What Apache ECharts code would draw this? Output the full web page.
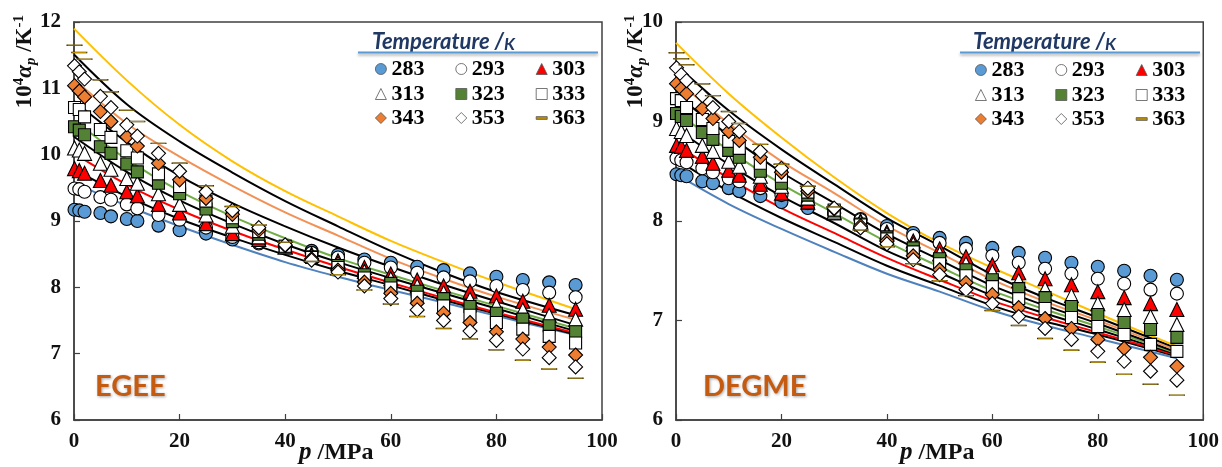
<!DOCTYPE html>
<html><head><meta charset="utf-8">
<script src="https://cdn.jsdelivr.net/npm/echarts@6/dist/echarts.min.js"></script>
<style>html,body{margin:0;padding:0;background:#fff}#c{width:1222px;height:467px}</style>
</head><body><div id="c"></div>
<script>
// ---------- DATA ----------
const temps = ['283','293','303','313','323','333','343','353','363'];
const pressure = [0.1,1,2,5,7,10,12,16,20,25,30,35,40,45,50,55,60,65,70,75,80,85,90,95];
const fitPressure = [0,10,20,30,40,50,60,70,80,95];
const xTicks = [0,20,40,60,80,100];
const yTicksEGEE = [6,7,8,9,10,11,12];
const yTicksDEGME = [6,7,8,9,10];

// EGEE measured
const egee_283 = [9.17,9.16,9.14,9.12,9.07,9.03,9.00,8.93,8.86,8.81,8.72,8.66,8.61,8.55,8.49,8.42,8.37,8.31,8.26,8.21,8.16,8.11,8.075,8.035];
const egee_293 = [9.49,9.48,9.44,9.36,9.32,9.25,9.19,9.09,9.02,8.90,8.76,8.68,8.61,8.52,8.45,8.37,8.30,8.22,8.15,8.09,8.02,7.96,7.92,7.85];
const egee_303 = [9.79,9.76,9.72,9.61,9.54,9.44,9.38,9.25,9.12,8.96,8.81,8.72,8.61,8.50,8.40,8.30,8.20,8.11,8.02,7.94,7.87,7.79,7.73,7.67];
const egee_313 = [10.10,10.07,10.02,9.87,9.78,9.64,9.57,9.41,9.25,9.09,8.92,8.76,8.61,8.48,8.36,8.24,8.13,8.02,7.92,7.82,7.73,7.66,7.58,7.52];
const egee_323 = [10.42,10.37,10.30,10.12,10.02,9.86,9.74,9.57,9.41,9.18,8.99,8.80,8.62,8.46,8.33,8.19,8.06,7.94,7.83,7.71,7.61,7.52,7.42,7.33];
const egee_333 = [10.71,10.68,10.57,10.38,10.26,10.06,9.95,9.71,9.52,9.30,9.05,8.84,8.62,8.45,8.30,8.14,7.99,7.85,7.72,7.58,7.47,7.37,7.26,7.16];
const egee_343 = [11.04,10.96,10.87,10.65,10.50,10.27,10.13,9.87,9.62,9.34,9.10,8.86,8.63,8.43,8.26,8.08,7.91,7.76,7.61,7.47,7.33,7.22,7.10,6.98];
const egee_353 = [11.34,11.25,11.14,10.88,10.71,10.45,10.28,10.02,9.75,9.44,9.16,8.90,8.64,8.41,8.23,8.02,7.83,7.66,7.50,7.34,7.20,7.07,6.94,6.80];
const egee_363 = [11.65,11.54,11.44,11.13,10.95,10.67,10.50,10.17,9.87,9.53,9.22,8.94,8.68,8.39,8.19,7.96,7.75,7.56,7.38,7.22,7.06,6.90,6.77,6.63];

// EGEE fitted curves
const egeeFit_283 = [9.57,9.23,8.92,8.64,8.38,8.16,7.96,7.77,7.57,7.28];
const egeeFit_293 = [9.78,9.37,9.03,8.75,8.49,8.25,8.03,7.81,7.60,7.29];
const egeeFit_303 = [10.02,9.55,9.17,8.85,8.57,8.31,8.07,7.84,7.62,7.31];
const egeeFit_313 = [10.27,9.74,9.31,8.96,8.65,8.38,8.14,7.91,7.68,7.34];
const egeeFit_323 = [10.52,9.93,9.45,9.07,8.74,8.44,8.19,7.95,7.72,7.38];
const egeeFit_333 = [10.81,10.19,9.68,9.27,8.92,8.60,8.31,8.04,7.79,7.43];
const egeeFit_343 = [11.14,10.47,9.97,9.53,9.13,8.78,8.43,8.13,7.86,7.51];
const egeeFit_353 = [11.51,10.76,10.20,9.73,9.30,8.92,8.55,8.22,7.93,7.58];
const egeeFit_363 = [11.90,11.12,10.45,9.90,9.45,9.07,8.70,8.38,8.08,7.67];

// DEGME measured
const degme_283 = [8.47,8.46,8.45,8.40,8.38,8.33,8.30,8.25,8.19,8.13,8.08,8.02,7.95,7.88,7.83,7.78,7.73,7.68,7.63,7.58,7.54,7.50,7.45,7.41];
const degme_293 = [8.63,8.61,8.59,8.53,8.49,8.43,8.40,8.33,8.26,8.18,8.08,8.01,7.92,7.85,7.78,7.72,7.65,7.58,7.52,7.47,7.42,7.37,7.31,7.27];
const degme_303 = [8.76,8.75,8.71,8.65,8.58,8.51,8.46,8.37,8.28,8.19,8.08,8.00,7.89,7.80,7.72,7.64,7.56,7.48,7.42,7.36,7.29,7.23,7.17,7.11];
const degme_313 = [8.93,8.90,8.86,8.76,8.70,8.60,8.55,8.45,8.35,8.23,8.09,7.99,7.87,7.77,7.67,7.57,7.49,7.40,7.32,7.25,7.17,7.11,7.04,6.96];
const degme_323 = [9.08,9.05,9.01,8.89,8.82,8.71,8.64,8.50,8.38,8.26,8.10,7.97,7.84,7.73,7.62,7.51,7.41,7.32,7.23,7.14,7.06,6.98,6.91,6.83];
const degme_333 = [9.23,9.21,9.14,9.02,8.93,8.80,8.73,8.58,8.45,8.29,8.11,7.96,7.82,7.69,7.57,7.45,7.34,7.22,7.12,7.03,6.94,6.86,6.76,6.69];
const degme_343 = [9.38,9.33,9.28,9.13,9.03,8.90,8.81,8.64,8.49,8.30,8.12,7.95,7.80,7.65,7.51,7.38,7.26,7.13,7.02,6.92,6.81,6.72,6.63,6.54];
const degme_353 = [9.54,9.47,9.41,9.26,9.14,9.00,8.90,8.70,8.53,8.33,8.13,7.93,7.77,7.61,7.46,7.31,7.17,7.04,6.92,6.81,6.69,6.59,6.49,6.40];
const degme_363 = [9.69,9.63,9.57,9.38,9.26,9.10,8.98,8.77,8.57,8.35,8.14,7.91,7.74,7.57,7.40,7.25,7.10,6.95,6.82,6.70,6.58,6.46,6.36,6.25];

// DEGME fitted curves
const degmeFit_283 = [8.47,8.17,7.92,7.69,7.47,7.29,7.10,6.95,6.82,6.62];
const degmeFit_293 = [8.62,8.30,8.03,7.79,7.55,7.35,7.15,6.99,6.86,6.64];
const degmeFit_303 = [8.77,8.43,8.13,7.88,7.63,7.41,7.20,7.03,6.88,6.65];
const degmeFit_313 = [8.93,8.57,8.25,7.98,7.70,7.48,7.25,7.07,6.91,6.66];
const degmeFit_323 = [9.10,8.71,8.37,8.08,7.79,7.54,7.30,7.11,6.94,6.67];
const degmeFit_333 = [9.27,8.86,8.49,8.18,7.87,7.61,7.35,7.15,6.97,6.68];
const degmeFit_343 = [9.42,8.98,8.60,8.28,7.95,7.68,7.41,7.19,7.00,6.70];
const degmeFit_353 = [9.57,9.11,8.72,8.37,8.03,7.75,7.46,7.23,7.03,6.72];
const degmeFit_363 = [9.79,9.28,8.84,8.44,8.08,7.78,7.53,7.30,7.07,6.74];

// ---------- STYLE ----------
const egeeSets = [egee_283,egee_293,egee_303,egee_313,egee_323,egee_333,egee_343,egee_353,egee_363];
const egeeFits = [egeeFit_283,egeeFit_293,egeeFit_303,egeeFit_313,egeeFit_323,egeeFit_333,egeeFit_343,egeeFit_353,egeeFit_363];
const degmeSets = [degme_283,degme_293,degme_303,degme_313,degme_323,degme_333,degme_343,degme_353,degme_363];
const degmeFits = [degmeFit_283,degmeFit_293,degmeFit_303,degmeFit_313,degmeFit_323,degmeFit_333,degmeFit_343,degmeFit_353,degmeFit_363];

const markers = [
  {symbol:'circle', size:13, fill:'#5B9BD5', border:'#000', bw:1.1},
  {symbol:'circle', size:13, fill:'#FFFFFF', border:'#000', bw:1.1},
  {symbol:'triangle', size:14, fill:'#FF0000', border:'#000', bw:1.1},
  {symbol:'triangle', size:14, fill:'#FFFFFF', border:'#000', bw:1.1},
  {symbol:'rect', size:12, fill:'#548235', border:'#000', bw:1.1},
  {symbol:'rect', size:12, fill:'#FFFFFF', border:'#000', bw:1.1},
  {symbol:'diamond', size:14, fill:'#ED7D31', border:'#000', bw:1.1},
  {symbol:'diamond', size:14, fill:'#FFFFFF', border:'#000', bw:1.1},
  {symbol:'path://M0,0H16V4H0Z', size:[15,4.5], fill:'#BF9000', border:'#3D3000', bw:0.6}
];
const lineColors = ['#4F81BD','#000000','#FF0000','#000000','#70AD47','#000000','#F29155','#000000','#FFC000'];

const serif = '"Liberation Serif", "Times New Roman", serif';
const axisCol = '#404040';

function makeAxes(gridIndex, ymax){
  return {
    x: {gridIndex, type:'value', min:0, max:100, interval:20,
        axisLine:{show:true, onZero:false, lineStyle:{color:axisCol, width:1.5}},
        axisTick:{show:true, inside:true, length:6, lineStyle:{color:axisCol, width:1.2}},
        splitLine:{show:false},
        axisLabel:{fontFamily:serif, fontWeight:'bold', fontSize:21, color:'#111', margin:11}},
    y: {gridIndex, type:'value', min:6, max:ymax, interval:1,
        axisLine:{show:true, onZero:false, lineStyle:{color:axisCol, width:1.5}},
        axisTick:{show:true, inside:true, length:6, lineStyle:{color:axisCol, width:1.2}},
        splitLine:{show:false},
        axisLabel:{fontFamily:serif, fontWeight:'bold', fontSize:21, color:'#111', margin:13}}
  };
}
const a0 = makeAxes(0, yTicksEGEE[yTicksEGEE.length-1]);
const a1 = makeAxes(1, yTicksDEGME[yTicksDEGME.length-1]);

const series = [];
function addPanel(idx, sets, fits){
  fits.forEach((f,i)=>{
    series.push({type:'line', name:'fit'+temps[i]+'_'+idx, xAxisIndex:idx, yAxisIndex:idx,
      data: fitPressure.map((p,k)=>[p,f[k]]), smooth:0.35, showSymbol:false, symbol:'none',
      lineStyle:{color:lineColors[i], width:2}, z:2, silent:true});
  });
  sets.forEach((s,i)=>{
    const m = markers[i];
    series.push({type:'scatter', name:temps[i], xAxisIndex:idx, yAxisIndex:idx,
      data: pressure.map((p,k)=>[p,s[k]]), symbol:m.symbol, symbolSize:m.size, symbolKeepAspect:true,
      itemStyle:{color:m.fill, borderColor:m.border, borderWidth:m.bw, opacity:1}, z:3+i, silent:true});
  });
}
addPanel(0, egeeSets, egeeFits);
addPanel(1, degmeSets, degmeFits);

const legendBase = {orient:'horizontal', itemWidth:11, itemHeight:11, itemGap:31, padding:0, selectedMode:false,
  symbolKeepAspect:true,
  itemStyle:{borderColor:'#555', borderWidth:0.8},
  textStyle:{fontFamily:serif, fontWeight:'bold', fontSize:22, color:'#000', lineHeight:22, padding:[0,0,0,0]}};
const legends = [];
[[375,[58,83,107]],[975,[59,84,108]]].forEach(([lx,tops])=>{
  for(let r=0;r<3;r++){
    legends.push(Object.assign({}, legendBase, {left:lx, top:tops[r], data:temps.slice(r*3, r*3+3)}));
  }
});

const yTitleRich = {
  n:{fontFamily:serif, fontWeight:'bold', fontSize:23, lineHeight:27, verticalAlign:'middle'},
  s:{fontFamily:serif, fontWeight:'bold', fontSize:15, lineHeight:15, verticalAlign:'top'},
  a:{fontFamily:serif, fontWeight:'bold', fontStyle:'italic', fontSize:23, lineHeight:27},
  b:{fontFamily:serif, fontWeight:'bold', fontStyle:'italic', fontSize:15, lineHeight:15, verticalAlign:'bottom'}
};
function yTitle(x){
  return {type:'text', x:x, y:15, rotation:Math.PI/2, z:50,
    style:{text:'{n|10}{s|4}{a|α}{b|p}{n| /K}{s|-1}', rich:yTitleRich, align:'right', verticalAlign:'middle', fill:'#111'}};
}
function xTitle(x){
  return {type:'text', x:x, y:453, z:50,
    style:{text:'{p|p}{m| /MPa}', align:'left', verticalAlign:'middle', fill:'#111',
      rich:{p:{fontFamily:serif, fontWeight:'bold', fontStyle:'italic', fontSize:25},
            m:{fontFamily:serif, fontWeight:'bold', fontSize:24}}}};
}
const sans = 'Lato, "Open Sans", sans-serif';
function tempTitle(x, lineX1, lineX2){
  return [
    {type:'text', x:x, y:41, z:50, style:{text:'{t|Temperature /}{k|K}', align:'left', verticalAlign:'middle', fill:'#203864',
      rich:{t:{fontFamily:sans, fontWeight:'bold', fontStyle:'italic', fontSize:22, lineHeight:24, verticalAlign:'bottom'},
            k:{fontFamily:sans, fontWeight:'bold', fontStyle:'italic', fontSize:17, lineHeight:20, verticalAlign:'bottom'}}}},
    {type:'line', z:50, shape:{x1:lineX1, y1:52.5, x2:lineX2, y2:52.5}, style:{stroke:'#5B9BD5', lineWidth:2, shadowBlur:3, shadowColor:'rgba(0,0,0,0.35)', shadowOffsetY:2}}
  ];
}
function panelLabel(x, txt){
  return {type:'text', x:x, y:387, z:50, style:{text:txt, fontFamily:sans, fontWeight:'bold', fontSize:29, fill:'#C55A11', align:'left', verticalAlign:'middle', textShadowBlur:3, textShadowColor:'rgba(0,0,0,0.35)', textShadowOffsetX:1, textShadowOffsetY:1}};
}

const option = {
  animation:false,
  backgroundColor:'#ffffff',
  grid:[
    {left:74, top:22, width:528, height:398, show:true, borderColor:axisCol, borderWidth:1.5, backgroundColor:'transparent'},
    {left:676, top:22, width:528, height:398, show:true, borderColor:axisCol, borderWidth:1.5, backgroundColor:'transparent'}
  ],
  xAxis:[a0.x, a1.x],
  yAxis:[a0.y, a1.y],
  legend:legends,
  series:series,
  graphic:[
    yTitle(25), yTitle(636),
    xTitle(299), xTitle(900),
    ...tempTitle(372, 358, 598), ...tempTitle(973, 960, 1200),
    panelLabel(95, 'EGEE'), panelLabel(703, 'DEGME')
  ]
};
const chart = echarts.init(document.getElementById('c'), null, {renderer:'canvas'});
chart.setOption(option);
</script></body></html>
